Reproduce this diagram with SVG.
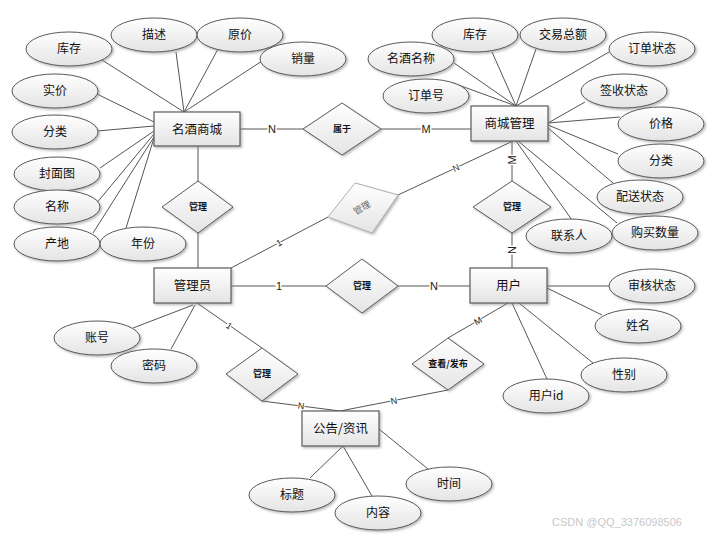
<svg xmlns="http://www.w3.org/2000/svg" width="708" height="534" viewBox="0 0 708 534">
<defs>
<linearGradient id="g" x1="0" y1="0" x2="0" y2="1">
<stop offset="0" stop-color="#ffffff"/>
<stop offset="1" stop-color="#e4e4e4"/>
</linearGradient>
<filter id="sh" x="-20%" y="-20%" width="140%" height="150%">
<feDropShadow dx="1.5" dy="1.5" stdDeviation="1" flood-color="#888" flood-opacity="0.6"/>
</filter>
</defs>
<style>
.e{fill:url(#g);stroke:#5a5a5a;stroke-width:1;filter:url(#sh)}
.r{fill:url(#g);stroke:#5a5a5a;stroke-width:1.2;filter:url(#sh)}
.d{fill:url(#g);stroke:#5a5a5a;stroke-width:1;filter:url(#sh)}
.dg{fill:url(#g);stroke:#b0b0b0;stroke-width:1;filter:url(#sh)}
.t{font-family:"Noto Sans CJK SC",sans-serif;font-size:12px;fill:#111;text-anchor:middle}
.te{font-family:"Noto Sans CJK SC",sans-serif;font-size:12.5px;fill:#111;text-anchor:middle}
.td{font-family:"Noto Sans CJK SC",sans-serif;font-size:9px;font-weight:bold;fill:#111;text-anchor:middle}
.tg{font-family:"Noto Sans CJK SC",sans-serif;font-size:9px;fill:#666;text-anchor:middle}
.l{font-family:"Liberation Sans",sans-serif;font-size:11px;fill:#222;text-anchor:middle;stroke:#fff;stroke-width:3;paint-order:stroke}
.ls{font-family:"Liberation Sans",sans-serif;font-size:9px;fill:#222;text-anchor:middle;stroke:#fff;stroke-width:2;paint-order:stroke}
#connectors path{stroke:#555;stroke-width:1;fill:none}
</style>
<rect width="708" height="534" fill="#fff"/>
<g id="connectors">
<path d="M102,60 L184,112"/>
<path d="M176,52 L184,112"/>
<path d="M218,49 L184,112"/>
<path d="M262,61 L184,112"/>
<path d="M97,94 L154,122"/>
<path d="M97,131 L154,126"/>
<path d="M100,168 L154,131"/>
<path d="M95,205 L154,134"/>
<path d="M93,233 L154,137"/>
<path d="M126,228 L154,138"/>
<path d="M240,129 L303,129"/>
<path d="M381,129 L471,129"/>
<path d="M198,146 L198,181"/>
<path d="M198,233 L198,268"/>
<path d="M231,268 L328,217"/>
<path d="M398,195 L513,141"/>
<path d="M231,286 L326,286"/>
<path d="M398,286 L470,286"/>
<path d="M512,141 L512,181"/>
<path d="M512,233 L512,268"/>
<path d="M454,63 L516,106"/>
<path d="M453,83 L516,106"/>
<path d="M492,52 L516,106"/>
<path d="M536,49 L516,106"/>
<path d="M609,52 L516,106"/>
<path d="M585,102 L548,123"/>
<path d="M620,117 L548,123"/>
<path d="M618,154 L548,125"/>
<path d="M613,183 L548,128"/>
<path d="M617,223 L518,141"/>
<path d="M572,220 L516,141"/>
<path d="M547,286 L609,286"/>
<path d="M547,288 L602,315"/>
<path d="M519,303 L593,363"/>
<path d="M512,303 L547,379"/>
<path d="M508,303 L448,338"/>
<path d="M448,390 L340,411"/>
<path d="M197,303 L262,348"/>
<path d="M262,401 L340,411"/>
<path d="M193,305 L133,328"/>
<path d="M195,305 L171,349"/>
<path d="M343,446 L310,478"/>
<path d="M343,446 L372,496"/>
<path d="M379,429 L428,469"/>
<text class="l" x="272" y="133">N</text>
<text class="l" x="426" y="133">M</text>
<text class="l" x="279" y="290">1</text>
<text class="l" x="434" y="290">N</text>
<text class="l" transform="translate(512,160) rotate(-90)" x="0" y="4">M</text>
<text class="l" transform="translate(512,250) rotate(-90)" x="0" y="4">N</text>
<text class="ls" transform="translate(279,243) rotate(-27)" x="0" y="3">1</text>
<text class="ls" transform="translate(456,168) rotate(-24)" x="0" y="3">N</text>
<text class="ls" transform="translate(478,321) rotate(-30)" x="0" y="3">M</text>
<text class="ls" transform="translate(394,401) rotate(-10)" x="0" y="3">N</text>
<text class="ls" transform="translate(301,406) rotate(7)" x="0" y="3">N</text>
<text class="ls" transform="translate(229,326) rotate(35)" x="0" y="3">1</text>
</g>
<g id="n-mjsc"><rect class="r" x="154" y="112" width="86" height="34"/><text class="te" x="197" y="133.5">名酒商城</text></g>
<g id="n-scgl"><rect class="r" x="471" y="106" width="77" height="35"/><text class="te" x="509.5" y="128">商城管理</text></g>
<g id="n-gly"><rect class="r" x="154" y="268" width="77" height="35"/><text class="te" x="192.5" y="290">管理员</text></g>
<g id="n-yh"><rect class="r" x="470" y="268" width="77" height="35"/><text class="te" x="508.5" y="290">用户</text></g>
<g id="n-gg"><rect class="r" x="302" y="411" width="77" height="35"/><text class="te" x="340.5" y="433">公告/资讯</text></g>
<g id="d-sy"><polygon class="d" points="303,129 342,103 381,129 342,155"/><text class="td" x="342" y="132">属于</text></g>
<g id="d-gl1"><polygon class="d" points="162,207 198,181 233,207 198,233"/><text class="td" x="198" y="210">管理</text></g>
<g id="d-gl2"><polygon class="d" points="473,207 512,181 551,207 512,233"/><text class="td" x="512" y="210">管理</text></g>
<g id="d-gl3"><polygon class="d" points="326,286 362,259 398,286 362,313"/><text class="td" x="362" y="289">管理</text></g>
<g id="d-gl4"><polygon class="d" points="226,374 262,348 298,374 262,401"/><text class="td" x="262" y="377">管理</text></g>
<g id="d-ckfb"><polygon class="d" points="412,364 448,338 484,364 448,390"/><text class="td" x="448" y="367">查看/发布</text></g>
<g id="d-glg"><polygon class="dg" points="328,217 355,183 398,195 372,233"/><text class="tg" transform="translate(362,208) rotate(-30)" x="0" y="3">管理</text></g>
<g id="a1"><ellipse class="e" cx="69" cy="49" rx="43" ry="17"/><text class="t" x="69" y="53">库存</text></g>
<g id="a2"><ellipse class="e" cx="154" cy="35" rx="43" ry="17"/><text class="t" x="154" y="39">描述</text></g>
<g id="a3"><ellipse class="e" cx="240" cy="35" rx="43" ry="17"/><text class="t" x="240" y="39">原价</text></g>
<g id="a4"><ellipse class="e" cx="303" cy="59" rx="43" ry="17"/><text class="t" x="303" y="63">销量</text></g>
<g id="a5"><ellipse class="e" cx="55" cy="91" rx="43" ry="17"/><text class="t" x="55" y="95">实价</text></g>
<g id="a6"><ellipse class="e" cx="55" cy="132" rx="43" ry="17"/><text class="t" x="55" y="136">分类</text></g>
<g id="a7"><ellipse class="e" cx="57" cy="174" rx="43" ry="17"/><text class="t" x="57" y="178">封面图</text></g>
<g id="a8"><ellipse class="e" cx="57" cy="207" rx="43" ry="17"/><text class="t" x="57" y="211">名称</text></g>
<g id="a9"><ellipse class="e" cx="57" cy="244" rx="43" ry="17"/><text class="t" x="57" y="248">产地</text></g>
<g id="a10"><ellipse class="e" cx="143" cy="244" rx="43" ry="17"/><text class="t" x="143" y="248">年份</text></g>
<g id="b1"><ellipse class="e" cx="411" cy="59" rx="43" ry="17"/><text class="t" x="411" y="63">名酒名称</text></g>
<g id="b2"><ellipse class="e" cx="475" cy="35" rx="43" ry="17"/><text class="t" x="475" y="39">库存</text></g>
<g id="b3"><ellipse class="e" cx="563" cy="35" rx="43" ry="17"/><text class="t" x="563" y="39">交易总额</text></g>
<g id="b4"><ellipse class="e" cx="652" cy="49" rx="43" ry="17"/><text class="t" x="652" y="53">订单状态</text></g>
<g id="b5"><ellipse class="e" cx="426" cy="96" rx="43" ry="17"/><text class="t" x="426" y="100">订单号</text></g>
<g id="b6"><ellipse class="e" cx="624" cy="91" rx="43" ry="17"/><text class="t" x="624" y="95">签收状态</text></g>
<g id="b7"><ellipse class="e" cx="661" cy="124" rx="43" ry="17"/><text class="t" x="661" y="128">价格</text></g>
<g id="b8"><ellipse class="e" cx="661" cy="161" rx="43" ry="17"/><text class="t" x="661" y="165">分类</text></g>
<g id="b9"><ellipse class="e" cx="640" cy="197" rx="43" ry="17"/><text class="t" x="640" y="201">配送状态</text></g>
<g id="b10"><ellipse class="e" cx="655" cy="233" rx="43" ry="17"/><text class="t" x="655" y="237">购买数量</text></g>
<g id="b11"><ellipse class="e" cx="569" cy="236" rx="43" ry="17"/><text class="t" x="569" y="240">联系人</text></g>
<g id="c1"><ellipse class="e" cx="652" cy="286" rx="43" ry="17"/><text class="t" x="652" y="290">审核状态</text></g>
<g id="c2"><ellipse class="e" cx="638" cy="326" rx="43" ry="17"/><text class="t" x="638" y="330">姓名</text></g>
<g id="c3"><ellipse class="e" cx="624" cy="375" rx="43" ry="17"/><text class="t" x="624" y="379">性别</text></g>
<g id="c4"><ellipse class="e" cx="546" cy="396" rx="43" ry="17"/><text class="t" x="546" y="400">用户id</text></g>
<g id="e1"><ellipse class="e" cx="97" cy="338" rx="43" ry="17"/><text class="t" x="97" y="342">账号</text></g>
<g id="e2"><ellipse class="e" cx="154" cy="366" rx="43" ry="17"/><text class="t" x="154" y="370">密码</text></g>
<g id="f1"><ellipse class="e" cx="292" cy="495" rx="43" ry="17"/><text class="t" x="292" y="499">标题</text></g>
<g id="f2"><ellipse class="e" cx="378" cy="513" rx="43" ry="17"/><text class="t" x="378" y="517">内容</text></g>
<g id="f3"><ellipse class="e" cx="449" cy="484" rx="43" ry="17"/><text class="t" x="449" y="488">时间</text></g>
<text x="617" y="526" style="font-family:'Liberation Sans',sans-serif;font-size:11px;fill:#c8c8c8;text-anchor:middle">CSDN @QQ_3376098506</text>
</svg>
